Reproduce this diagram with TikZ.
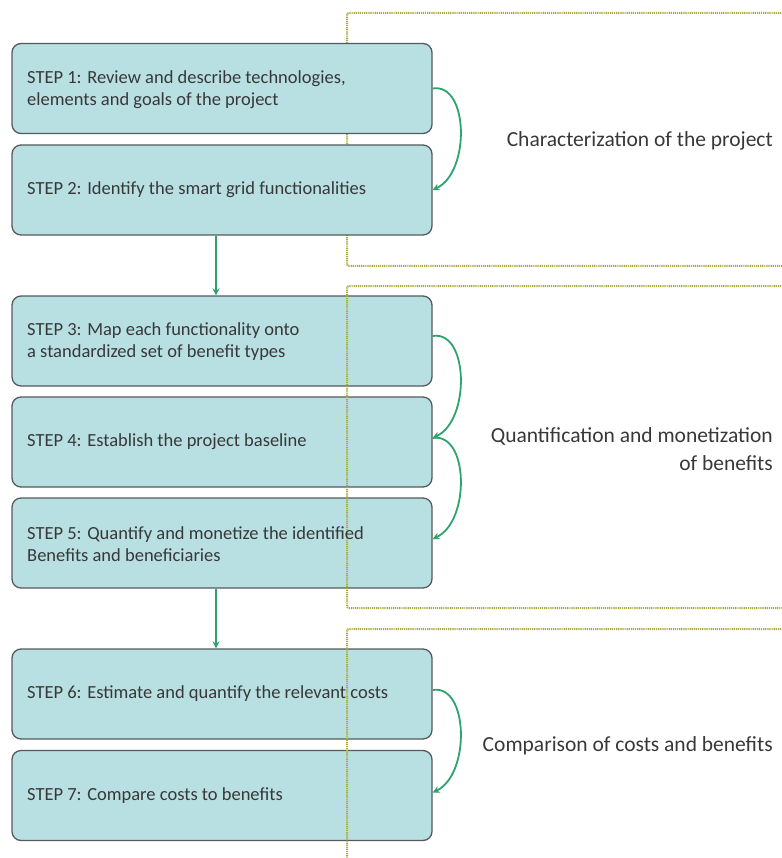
\documentclass[tikz,border=0pt]{standalone}
\usepackage{fontspec}
\setmainfont{Carlito}
\usetikzlibrary{arrows.meta}
\definecolor{boxfill}{HTML}{B8DFE2}
\definecolor{boxline}{HTML}{555A5C}
\definecolor{flowgreen}{HTML}{2EA36C}
\definecolor{frameolive}{HTML}{ABAA3E}
\definecolor{textgray}{HTML}{383838}
\tikzset{
  stepbox/.style={draw=boxline, line width=1.3pt, fill=boxfill, rounded corners=9pt,
    minimum width=420pt, minimum height=90pt, inner sep=0pt},
  steptext/.style={anchor=west, align=left, inner sep=0pt, text=textgray,
    font=\fontsize{18.5}{22}\selectfont},
  phase/.style={text=textgray, inner sep=0pt, font=\fontsize{21.5}{28}\selectfont,
    anchor=east, align=right},
  flow/.style={draw=flowgreen, line width=1.8pt, -{Stealth[length=7pt,width=7pt]}},
  groupframe/.style={draw=frameolive, line width=2pt, dash pattern=on 1.2pt off 0.9pt, rounded corners=2pt}
}
\begin{document}
\begin{tikzpicture}[x=1pt,y=-1pt]
\useasboundingbox (0,0) rectangle (781,858);

% first group frame sits behind the boxes
\draw[groupframe] (800,13) -- (347,13) -- (347,266) -- (800,266);

% step boxes
\node[stepbox] (s1) at (222,88.5) {};
\node[stepbox] (s2) at (222,190) {};
\node[stepbox] (s3) at (222,341) {};
\node[stepbox] (s4) at (222,442) {};
\node[stepbox] (s5) at (222,543) {};
\node[stepbox] (s6) at (222,694) {};
\node[stepbox] (s7) at (222,795.5) {};

% frames of the second and third groups drawn over the boxes
\draw[groupframe] (800,286) -- (347,286) -- (347,608) -- (800,608);
\draw[groupframe] (800,629) -- (347,629) -- (347,870);

% step labels
\node[steptext] (t1) at (27,90) {STEP 1: Review and describe technologies,\\elements and goals of the project};
\node[steptext] (t2) at (27,190) {STEP 2: Identify the smart grid functionalities};
\node[steptext] (t3) at (27,342) {STEP 3: Map each functionality onto\\a standardized set of benefit types};
\node[steptext] (t4) at (27,442) {STEP 4: Establish the project baseline};
\node[steptext] (t5) at (27,544) {STEP 5: Quantify and monetize the identified\\Benefits and beneficiaries};
\node[steptext] (t6) at (27,694) {STEP 6: Estimate and quantify the relevant costs};
\node[steptext] (t7) at (27,795.5) {STEP 7: Compare costs to benefits};

% phase captions
\node[phase] (p1) at (773,141) {Characterization of the project};
\node[phase] (p2) at (773,449) {Quantification and monetization\\of benefits};
\node[phase] (p3) at (773,746) {Comparison of costs and benefits};

% transitions between phases
\draw[flow] ([xshift=-6pt]s2.south) -- ([xshift=-6pt]s3.north);
\draw[flow] ([xshift=-6pt]s5.south) -- ([xshift=-6pt]s6.north);

% transitions inside a phase
\draw[flow] (s1.east) .. controls +(36,-6) and +(38,-18) .. (s2.east);
\draw[flow] ([yshift=5pt]s3.east) .. controls +(36,-6) and +(38,-18) .. ([yshift=4pt]s4.east);
\draw[flow] ([yshift=4pt]s4.east) .. controls +(36,-6) and +(38,-18) .. ([yshift=4pt]s5.east);
\draw[flow] ([yshift=4pt]s6.east) .. controls +(36,-6) and +(38,-18) .. ([yshift=3pt]s7.east);
\end{tikzpicture}
\end{document}
